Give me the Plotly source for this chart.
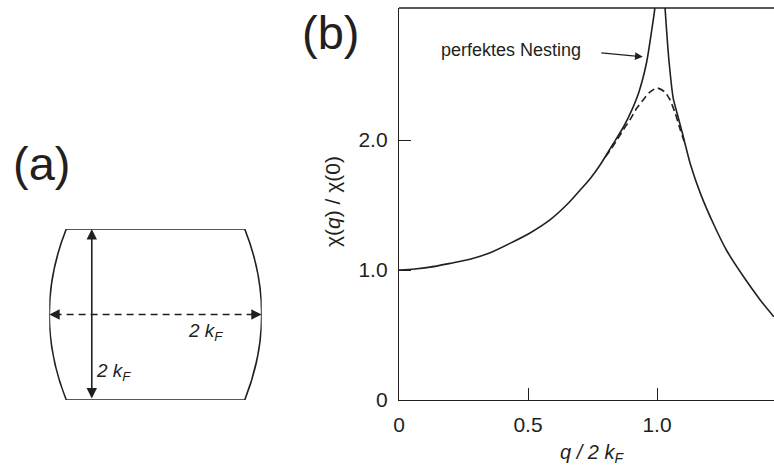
import plotly.graph_objects as go

# ---------------- data ----------------
q_solid = [0.0, 0.06, 0.12, 0.198, 0.275, 0.353, 0.43, 0.508, 0.585, 0.656, 0.70,
           0.74, 0.78, 0.83, 0.87, 0.90, 0.93, 0.96, 0.98, 0.992, 1.012, 1.031,
           1.045, 1.063, 1.08, 1.10, 1.13, 1.17, 1.22, 1.27, 1.335, 1.40, 1.453]
chi_solid = [1.00, 1.008, 1.022, 1.051, 1.082, 1.133, 1.205, 1.285, 1.385, 1.513, 1.61,
             1.70, 1.81, 1.97, 2.10, 2.22, 2.37, 2.60, 2.85, 3.02, 3.60, 3.02,
             2.64, 2.32, 2.19, 2.04, 1.81, 1.58, 1.35, 1.15, 0.95, 0.77, 0.64]

q_dashed = [0.80, 0.82, 0.845, 0.87, 0.895, 0.92, 0.947, 0.97, 1.00, 1.03, 1.05, 1.07, 1.09, 1.105]
chi_dashed = [1.87, 1.925, 2.00, 2.08, 2.155, 2.24, 2.31, 2.365, 2.40, 2.37, 2.31, 2.21, 2.08, 1.99]

x_tickvals = [0, 0.5, 1.0]
x_ticktext = ["0", "0.5", "1.0"]
y_tickvals = [0, 1.0, 2.0]
y_ticktext = ["0", "1.0", "2.0"]

# Fermi-surface sketch (units of k_F)
fs_flat_half = 0.84      # half length of the flat top/bottom edges
fs_height_half = 1.0     # half height (flat edges at +/-)
fs_bulge = 1.0           # outermost extent of the curved sides
arrow_v_x = -0.60        # position of the vertical (solid) 2kF arrow
arrow_h_y = 0.0          # position of the horizontal (dashed) 2kF arrow

W, H = 774, 465
INK = "#231f20"
FONT = "Arial, Liberation Sans, sans-serif"


def px(x):
    return x / W


def py(y):
    return 1 - y / H


fig = go.Figure()

fig.add_trace(go.Scatter(x=q_solid, y=chi_solid, mode="lines",
                         line=dict(color=INK, width=1.6, shape="spline", smoothing=0.6),
                         showlegend=False, hoverinfo="skip"))
fig.add_trace(go.Scatter(x=q_dashed, y=chi_dashed, mode="lines",
                         line=dict(color=INK, width=1.6, dash="7px,4px", shape="spline", smoothing=0.6),
                         showlegend=False, hoverinfo="skip"))

x0p, x1p = 399, 774
y0p, y1p = 400, 8
xmax = (x1p - x0p) / 258.0
ymax = (y0p - y1p) / 130.0

axis_common = dict(showline=True, linecolor=INK, linewidth=1.3, ticks="inside", ticklen=12,
                   tickwidth=1.3, tickcolor=INK, showgrid=False, zeroline=False,
                   automargin=False, tickfont=dict(family=FONT, size=21, color=INK))

fig.update_layout(
    width=W, height=H, autosize=False,
    margin=dict(l=0, r=0, t=0, b=0, pad=0, autoexpand=False),
    paper_bgcolor="white", plot_bgcolor="white",
    xaxis=dict(domain=[px(x0p), 1.0], range=[0, xmax], tickvals=x_tickvals,
               ticktext=x_ticktext, ticklabelstandoff=6, anchor="y", **axis_common),
    yaxis=dict(domain=[py(y0p), py(y1p)], range=[0, ymax], tickvals=y_tickvals,
               ticktext=y_ticktext, ticklabelstandoff=6, anchor="x", **axis_common),
    xaxis2=dict(domain=[px(49.3), px(261.7)], range=[-fs_bulge, fs_bulge], visible=False,
                anchor="y2", fixedrange=True, automargin=False),
    yaxis2=dict(domain=[py(400), py(229)], range=[-fs_height_half, fs_height_half],
                visible=False, anchor="x2", fixedrange=True, automargin=False),
)

# invisible trace to activate the sketch axes
fig.add_trace(go.Scatter(x=[-fs_bulge, fs_bulge], y=[-fs_height_half, fs_height_half],
                         xaxis="x2", yaxis="y2", mode="markers",
                         marker=dict(opacity=0), showlegend=False, hoverinfo="skip"))

# top frame line of panel (b)
fig.add_shape(type="line", xref="paper", yref="paper", x0=px(x0p), x1=1.0,
              y0=py(y1p), y1=py(y1p), line=dict(color=INK, width=1.3))

# Fermi surface outline
ctrl = 2 * fs_bulge - fs_flat_half
lw = 1.6
fig.add_shape(type="line", xref="x2", yref="y2", x0=-fs_flat_half, x1=fs_flat_half,
              y0=fs_height_half, y1=fs_height_half, line=dict(color=INK, width=lw))
fig.add_shape(type="line", xref="x2", yref="y2", x0=-fs_flat_half, x1=fs_flat_half,
              y0=-fs_height_half, y1=-fs_height_half, line=dict(color=INK, width=lw))
fig.add_shape(type="path", xref="x2", yref="y2",
              path=f"M {-fs_flat_half},{fs_height_half} Q {-ctrl},0 {-fs_flat_half},{-fs_height_half}",
              line=dict(color=INK, width=lw))
fig.add_shape(type="path", xref="x2", yref="y2",
              path=f"M {fs_flat_half},{fs_height_half} Q {ctrl},0 {fs_flat_half},{-fs_height_half}",
              line=dict(color=INK, width=lw))

# dashed horizontal arrow
fig.add_shape(type="line", xref="x2", yref="y2", x0=-fs_bulge + 0.05, x1=fs_bulge - 0.05,
              y0=arrow_h_y, y1=arrow_h_y, line=dict(color=INK, width=lw, dash="7px,5px"))
for sgn in (-1, 1):
    fig.add_annotation(x=sgn * fs_bulge, y=arrow_h_y, xref="x2", yref="y2",
                       ax=-sgn * 12, ay=0, axref="pixel", ayref="pixel",
                       showarrow=True, arrowhead=2, arrowsize=1.3, arrowwidth=1.6,
                       arrowcolor=INK, text="")

# solid vertical arrow (double-headed)
fig.add_annotation(x=arrow_v_x, y=fs_height_half, xref="x2", yref="y2",
                   ax=arrow_v_x, ay=-fs_height_half, axref="x2", ayref="y2",
                   showarrow=True, arrowhead=2, arrowside="end+start", arrowsize=1.3,
                   arrowwidth=1.6, arrowcolor=INK, text="")

lab_font = dict(family=FONT, size=19, color=INK)
fig.add_annotation(x=0.47, y=-0.20, xref="x2", yref="y2", showarrow=False,
                   xanchor="center", yanchor="middle",
                   text="<i>2 k</i><sub><i>F</i></sub>", font=lab_font)
fig.add_annotation(x=-0.40, y=-0.67, xref="x2", yref="y2", showarrow=False,
                   xanchor="center", yanchor="middle",
                   text="<i>2 k</i><sub><i>F</i></sub>", font=lab_font)

# panel labels
fig.add_annotation(x=px(41), y=py(163), xref="paper", yref="paper", showarrow=False,
                   xanchor="center", yanchor="middle",
                   text="(a)", font=dict(family=FONT, size=47, color=INK))
fig.add_annotation(x=px(330), y=py(32), xref="paper", yref="paper", showarrow=False,
                   xanchor="center", yanchor="middle",
                   text="(b)", font=dict(family=FONT, size=47, color=INK))

# axis titles
fig.add_annotation(x=px(333), y=py(202), xref="paper", yref="paper", showarrow=False,
                   xanchor="center", yanchor="middle",
                   textangle=-90, text="χ(<i>q</i>) / χ(0)",
                   font=dict(family=FONT, size=21, color=INK))
fig.add_annotation(x=px(592), y=py(453), xref="paper", yref="paper", showarrow=False,
                   xanchor="center", yanchor="middle",
                   text="<i>q / 2 k</i><sub><i>F</i></sub>",
                   font=dict(family=FONT, size=20, color=INK))

# perfect nesting label + arrow
fig.add_annotation(x=px(511), y=py(50), xref="paper", yref="paper", showarrow=False,
                   xanchor="center", yanchor="middle",
                   text="perfektes Nesting", font=dict(family=FONT, size=18, color=INK))
fig.add_annotation(x=0.945, y=2.64, xref="x", yref="y", ax=-43, ay=-4,
                   axref="pixel", ayref="pixel", showarrow=True, arrowhead=2,
                   arrowsize=1.2, arrowwidth=1.3, arrowcolor=INK, text="")

post = (
    "var d=document.getElementById('{plot_id}');"
    "d.style.display='block';"
    "if(d.parentElement){d.parentElement.style.lineHeight='0';d.parentElement.style.height='465px';}"
    "document.documentElement.style.margin='0';document.documentElement.style.padding='0';"
    "document.documentElement.style.overflow='hidden';"
    "document.body.style.margin='0';document.body.style.padding='0';"
    "document.body.style.overflow='hidden';document.body.style.height='465px';"
)
fig.write_html("out.html", config={"displayModeBar": False}, post_script=post)
